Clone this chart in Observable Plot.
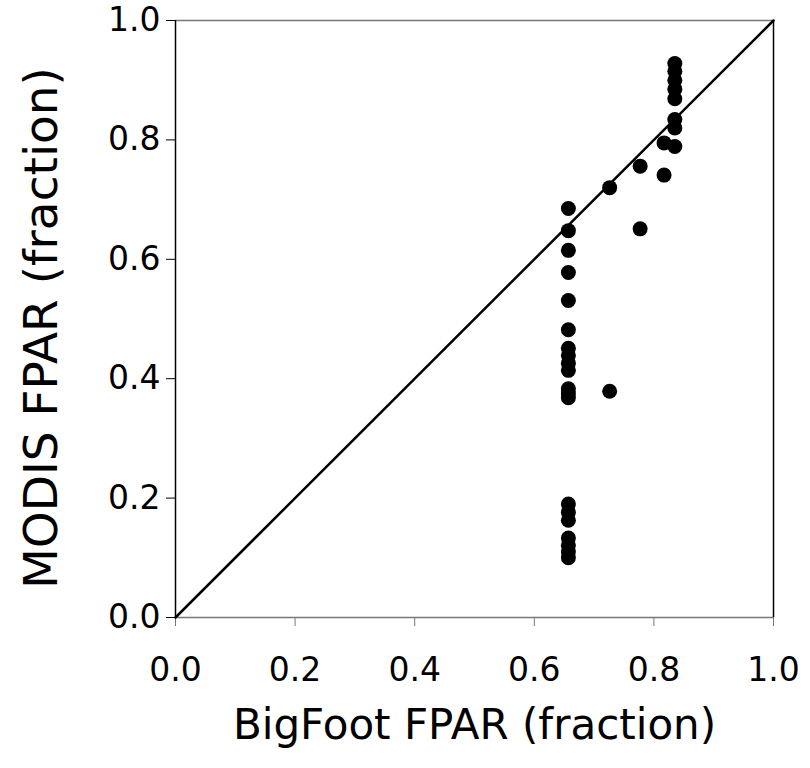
<!DOCTYPE html>
<html>
<head>
<meta charset="utf-8">
<script src="https://cdn.jsdelivr.net/npm/d3@7"></script>
<script src="https://cdn.jsdelivr.net/npm/@observablehq/plot@0.6"></script>
<style>
  html, body { margin: 0; padding: 0; background: #fff; }
  #chart svg { display: block; }
</style>
</head>
<body>
<div id="chart"></div>
<script>
// BigFoot FPAR (x) vs MODIS FPAR (y)
const bigfoot = [
  0.657, 0.657, 0.657, 0.657, 0.657, 0.657, 0.657, 0.657, 0.657, 0.657, 0.657, 0.657, 0.657,
  0.657, 0.657, 0.657, 0.657, 0.657, 0.657, 0.657,
  0.726, 0.726,
  0.777, 0.777,
  0.817, 0.817,
  0.835, 0.835, 0.835, 0.835, 0.835, 0.835, 0.835, 0.835
];
const modis = [
  0.685, 0.648, 0.615, 0.578, 0.531, 0.482, 0.451, 0.439, 0.426, 0.414, 0.383, 0.375, 0.368,
  0.190, 0.176, 0.163, 0.133, 0.121, 0.110, 0.100,
  0.720, 0.379,
  0.756, 0.651,
  0.795, 0.741,
  0.928, 0.915, 0.900, 0.885, 0.869, 0.834, 0.820, 0.789
];
const tickValues = [0, 0.2, 0.4, 0.6, 0.8, 1.0];
const oneToOne = [0, 1];
const xTitle = "BigFoot FPAR (fraction)";
const yTitle = "MODIS FPAR (fraction)";

const points = bigfoot.map((x, i) => ({x, y: modis[i]}));
const fmt = d3.format(".1f");

const chart = Plot.plot({
  width: 810,
  height: 768,
  marginLeft: 175,
  marginRight: 37,
  marginTop: 20,
  marginBottom: 151,
  style: {fontFamily: "DejaVu Sans", background: "#fff", color: "#000"},
  x: {domain: [0, 1]},
  y: {domain: [0, 1]},
  marks: [
    Plot.axisX({ticks: tickValues, tickFormat: fmt, tickSize: 9, tickPadding: 31, fontSize: 33, stroke: "#777", fill: "#000", label: null}),
    Plot.axisY({ticks: tickValues, tickFormat: fmt, tickSize: 9, tickPadding: 6, fontSize: 33, stroke: "#000", fill: "#000", label: null}),
    Plot.ruleY([0, 1], {stroke: "#777", strokeWidth: 1.5, x1: 0, x2: 1}),
    Plot.ruleX([0, 1], {stroke: "#000", strokeWidth: 1.5, y1: 0, y2: 1}),
    Plot.line(oneToOne, {x: d => d, y: d => d, stroke: "#000", strokeWidth: 2.5}),
    Plot.dot(points, {x: "x", y: "y", r: 7.5, fill: "#000", stroke: "none"}),
    Plot.text([xTitle], {frameAnchor: "bottom", lineAnchor: "middle", textAnchor: "middle", dy: 108, fontSize: 42, fill: "#000", text: d => d}),
    Plot.text([yTitle], {frameAnchor: "left", lineAnchor: "middle", textAnchor: "middle", rotate: -90, dx: -134, dy: 9, fontSize: 47, fill: "#000", text: d => d})
  ]
});
document.getElementById("chart").appendChild(chart);
</script>
</body>
</html>
